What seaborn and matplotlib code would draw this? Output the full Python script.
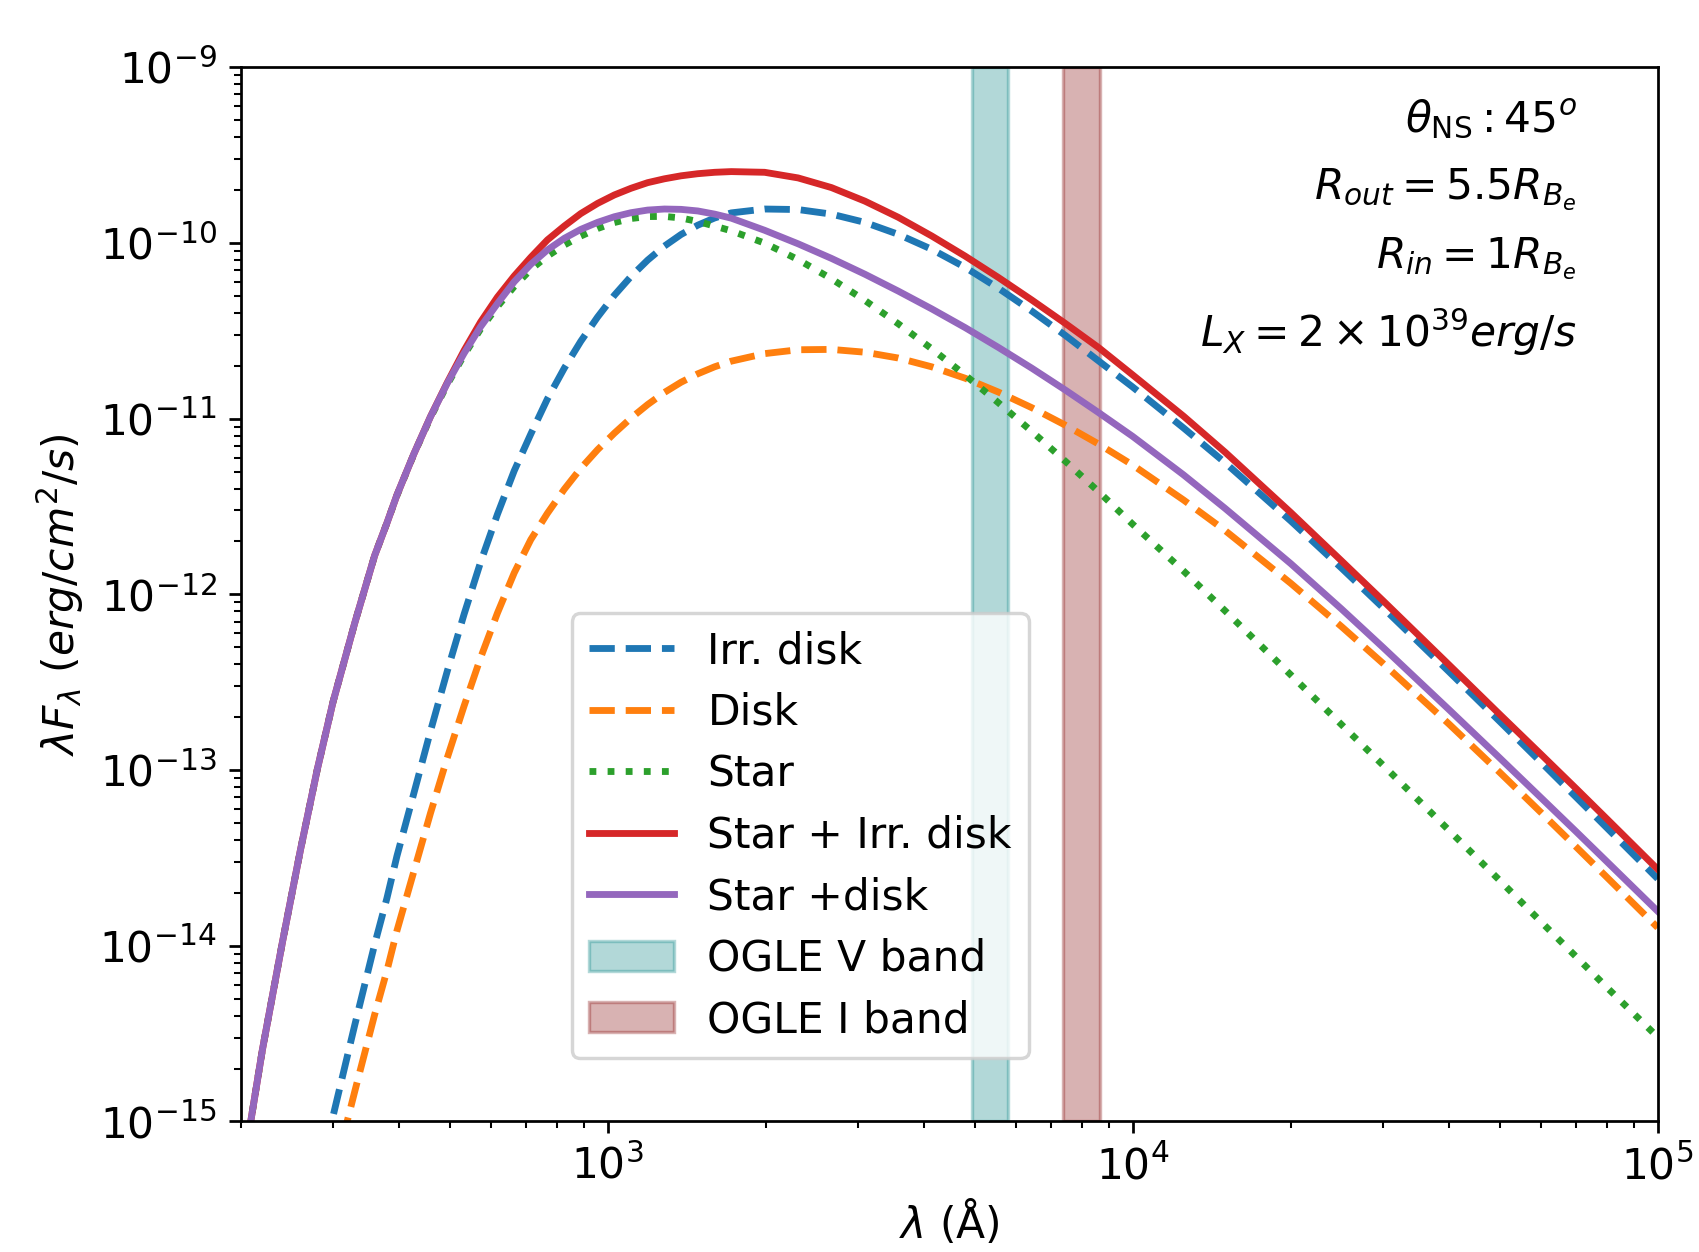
import numpy as np
import pandas as pd
import matplotlib
matplotlib.use("Agg")
import matplotlib.pyplot as plt
import seaborn as sns

# wavelength samples (Angstrom)
wavelength = [200, 220, 240, 260, 280, 300, 330, 360, 380, 397, 428, 460, 495,
              533, 573, 617, 664, 714, 768, 827, 889, 957, 1030, 1108, 1192,
              1283, 1380, 1485, 1599, 1720, 1991, 2306, 2669, 3090, 3577, 4141,
              4797, 5552, 6427, 7441, 8616, 10000, 12500, 15000, 20000, 25000,
              30000, 40000, 50000, 60000, 70000, 80000, 100000]
wavelength_irr = [290] + wavelength[5:]
wavelength_disk = wavelength[5:]

# log10 of lambda*F_lambda (erg/cm^2/s)
star_log = [-15.356, -14.595, -13.988, -13.456, -12.996, -12.612, -12.163,
            -11.78, -11.594, -11.438, -11.2, -10.994, -10.806, -10.638, -10.49,
            -10.362, -10.248, -10.151, -10.075, -10.012, -9.961, -9.918,
            -9.884, -9.861, -9.85, -9.849, -9.858, -9.878, -9.904, -9.931,
            -10.001, -10.095, -10.204, -10.327, -10.46, -10.602, -10.752,
            -10.91, -11.073, -11.242, -11.416, -11.601, -11.867, -12.094,
            -12.458, -12.742, -12.973, -13.342, -13.628, -13.865, -14.064,
            -14.237, -14.52]
star_disk_log = [-15.356, -14.595, -13.988, -13.456, -12.996, -12.612, -12.163,
                 -11.78, -11.594, -11.435, -11.198, -10.989, -10.799, -10.628,
                 -10.477, -10.345, -10.221, -10.122, -10.04, -9.974, -9.923,
                 -9.883, -9.851, -9.828, -9.813, -9.807, -9.809, -9.818,
                 -9.836, -9.859, -9.928, -10.005, -10.088, -10.178, -10.274,
                 -10.375, -10.482, -10.595, -10.713, -10.837, -10.966, -11.101,
                 -11.32, -11.511, -11.825, -12.084, -12.303, -12.655, -12.931,
                 -13.159, -13.352, -13.521, -13.804]
star_irr_log = [-15.356, -14.595, -13.988, -13.456, -12.996, -12.612, -12.163,
                -11.78, -11.594, -11.435, -11.198, -10.988, -10.795, -10.612,
                -10.45, -10.308, -10.188, -10.082, -9.983, -9.904, -9.833,
                -9.775, -9.727, -9.689, -9.657, -9.635, -9.618, -9.606, -9.598,
                -9.594, -9.598, -9.63, -9.685, -9.762, -9.854, -9.96, -10.075,
                -10.197, -10.325, -10.458, -10.596, -10.751, -10.986, -11.191,
                -11.534, -11.81, -12.037, -12.40, -12.683, -12.912, -13.107,
                -13.278, -13.565]
irr_disk_log = [-15.158, -14.97, -14.451, -13.993, -13.729, -13.49, -13.128,
                -12.778, -12.438, -12.113, -11.817, -11.544, -11.297, -11.088,
                -10.888, -10.713, -10.56, -10.422, -10.298, -10.191, -10.098,
                -10.018, -9.952, -9.899, -9.858, -9.829, -9.807, -9.81, -9.836,
                -9.883, -9.951, -10.036, -10.139, -10.258, -10.388, -10.526,
                -10.672, -10.82, -11.053, -11.251, -11.582, -11.851, -12.077,
                -12.439, -12.723, -12.957, -13.156, -13.329, -13.619]
disk_log = [-15.317, -14.829, -14.393, -14.142, -13.915, -13.573, -13.245,
            -12.931, -12.635, -12.361, -12.106, -11.878, -11.689, -11.539,
            -11.402, -11.283, -11.177, -11.083, -10.997, -10.92, -10.851,
            -10.793, -10.745, -10.705, -10.673, -10.63, -10.608, -10.606,
            -10.622, -10.655, -10.705, -10.77, -10.849, -10.938, -11.037,
            -11.145, -11.264, -11.463, -11.637, -11.937, -12.184, -12.394,
            -12.737, -13.013, -13.243, -13.439, -13.61, -13.897]

# photometric bands (Angstrom)
v_band = (4940, 5780)
i_band = (7380, 8670)

labels = ["Irr. disk", "Disk", "Star", "Star + Irr. disk", "Star +disk"]
band_labels = ["OGLE V band", "OGLE I band"]
x_major = [1e3, 1e4, 1e5]
y_major = [1e-15, 1e-14, 1e-13, 1e-12, 1e-11, 1e-10, 1e-9]

plt.rcParams["font.size"] = 12.4
plt.rcParams["font.family"] = ["DejaVu Sans"]

fig = plt.figure(figsize=(1699 / 246, 1252 / 246), dpi=246)
ax = fig.add_axes([0.1416, 0.1043, 0.9757 - 0.1416, 0.9463 - 0.1043])

series = [
    (wavelength_irr, irr_disk_log, "tab:blue", "--", labels[0]),
    (wavelength_disk, disk_log, "tab:orange", "--", labels[1]),
    (wavelength, star_log, "tab:green", ":", labels[2]),
    (wavelength, star_irr_log, "tab:red", "-", labels[3]),
    (wavelength, star_disk_log, "tab:purple", "-", labels[4]),
]

for lam, logf, col, ls, lab in series:
    df = pd.DataFrame({"lam": lam, "flux": 10 ** np.array(logf)})
    sns.lineplot(data=df, x="lam", y="flux", ax=ax, color=col,
                 linestyle=ls, linewidth=2, label=lab, sort=True)

vpatch = ax.axvspan(v_band[0], v_band[1], color="teal", alpha=0.3,
                    label=band_labels[0])
ipatch = ax.axvspan(i_band[0], i_band[1], color="maroon", alpha=0.3,
                    label=band_labels[1])

ax.set_xscale("log")
ax.set_yscale("log")
ax.set_xlim(200, 1e5)
ax.set_ylim(1e-15, 1e-9)
ax.set_xticks(x_major)
ax.set_yticks(y_major)

ax.set_xlabel(r"$\lambda$ (Å)", labelpad=3)
ax.set_ylabel(r"$\lambda F_{\lambda}\ (erg/cm^2/s)$")

handles = list(ax.get_lines()[:5]) + [vpatch, ipatch]
ax.legend(handles, labels + band_labels, loc="lower left",
          bbox_to_anchor=(0.2338, 0.0601), borderaxespad=0,
          labelspacing=0.46)

txt = [r"$\theta_{\rm NS} : 45^o$",
       r"$R_{out} = 5.5 R_{B_e}$",
       r"$R_{in} = 1 R_{B_e}$",
       r"$L_X = 2 \times 10^{39} erg/s$"]
ypos = [0.9385, 0.8743, 0.8089, 0.7346]
for t, yp in zip(txt, ypos):
    ax.text(0.9428, yp, t, transform=ax.transAxes, ha="right", va="baseline")

fig.savefig("out.png", dpi=246)
